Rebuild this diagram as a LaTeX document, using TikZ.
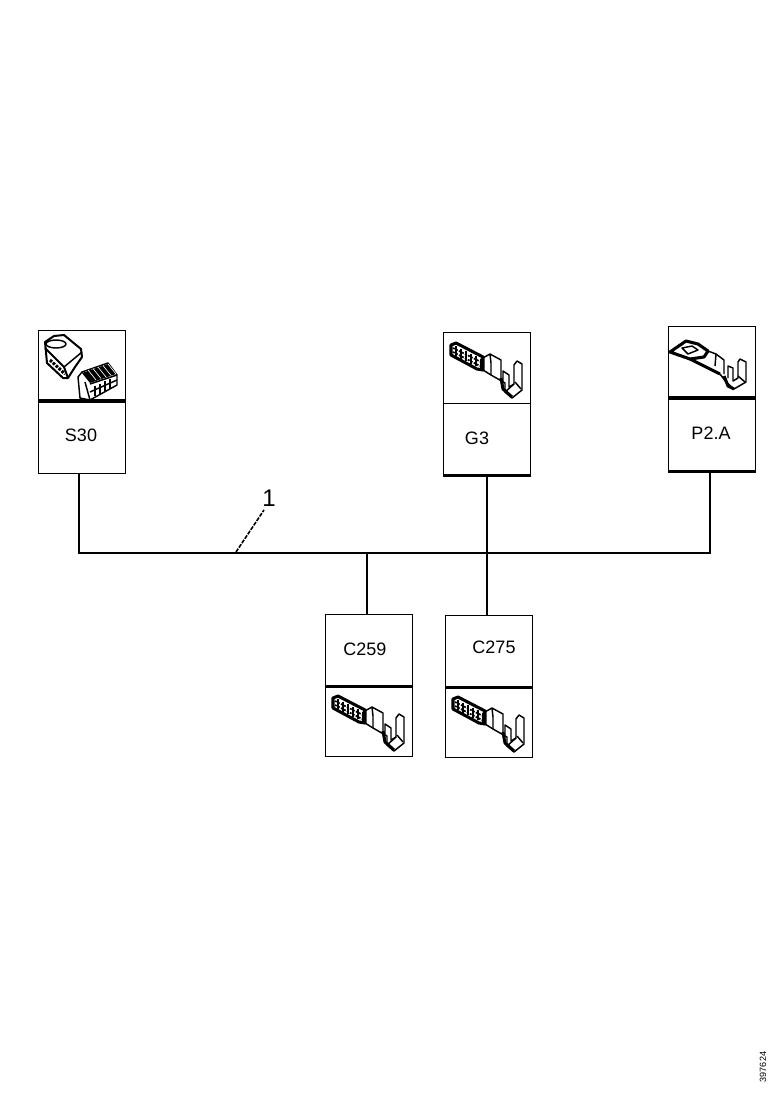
\documentclass[tikz,border=0pt]{standalone}
\usepackage{fontspec}
\setmainfont{Liberation Sans}
\tikzset{
  x=0.75pt,y=-0.75pt,
  boxpart/.style={draw=black,line width=1.1pt,fill=white,minimum width=65.25pt,inner sep=0pt,anchor=north west},
  wire/.style={draw=black,line width=1.9pt},
  divthick/.style={draw=black,line width=2.3pt},
  lbl/.style={font=\fontsize{13.5pt}{14pt}\selectfont,inner sep=0pt},
  art/.style={draw=black,line width=1.1pt,line join=round},
  artheavy/.style={draw=black,line width=2.3pt,line join=round},
  hatch/.style={draw=black,line width=1.3pt,dash pattern=on 1.5pt off 1pt},
  terminal/.pic={
    \draw[artheavy] (8,13)--(13,11)--(40,25)--(40,38)--(34,37)--(8,23)--cycle;
    \draw[hatch] (10,16)--(38,30);
    \draw[hatch] (10,20)--(37,34);
    \foreach \i in {0,1,2,3,4,5}{\draw[art] (13+5*\i,14+2.5*\i)--(13+5*\i,24+2.5*\i);}
    \draw[art] (38,27)--(47,22)--(58,28)--(58,48);
    \draw[art] (47,22)--(48,31)--(48,43);
    \draw[art] (40,38)--(48,43)--(62,51)--(62,60)--(69,66)--(79,58)--(79,32)--(74,29)--(71,33)--(71,52)--(66,55)--(66,43)--(60,39)--(60,50);
    \draw[artheavy] (58,46)--(60,57)--(69,65);
    \draw[art] (62,60)--(71,52);
    \draw[art] (72,50)--(78,57);
  },
  flatterminal/.pic={
    \draw[artheavy] (2,26)--(18,15)--(30,18)--(40,25)--(36,31)--(22,33)--cycle;
    \draw[art] (14,22)--(24,20)--(30,24)--(20,28)--cycle;
    \draw[artheavy] (22,33)--(40,42)--(52,48);
    \draw[art] (40,25)--(48,28)--(56,34)--(56,48);
    \draw[art] (48,28)--(47,40);
    \draw[art] (52,48)--(58,56)--(66,63)--(78,56)--(78,36)--(72,33)--(70,36)--(70,52)--(65,55)--(65,42)--(60,40)--(60,52);
    \draw[artheavy] (56,50)--(60,60)--(66,63);
    \draw[art] (70,50)--(77,56);
  },
  relaypair/.pic={
    \draw[art,line width=1.5pt] (7,12)--(16,6)--(26,5)--(43,19)--(44,27)--(37,37)--(30,48)--(25,48)--(9,33)--cycle;
    \draw[art,line width=1.5pt] (7,18)--(26,37)--(30,48);
    \draw[art] (26,37)--(44,22);
    \draw[art] (18,14) ellipse [x radius=7.5pt,y radius=3pt];
    \draw[artheavy,dash pattern=on 2pt off 1pt] (12,30)--(27,44);
    \draw[art,fill=white] (40,47)--(44,42)--(70,33)--(79,45)--(79,55)--(52,70)--(42,68)--cycle;
    \fill[black] (44,43)--(70,34)--(78,44)--(52,53)--cycle;
    \foreach \i in {0,1,2,3,4}{\draw[white,line width=0.5pt] (50+5*\i,40-1.5*\i)--(58+5*\i,50-1.5*\i);}
    \draw[art] (47,52)--(52,70);
    \draw[art] (52,54)--(79,45);
    \foreach \i in {0,1,2,3}{\draw[art] (57+5*\i,56-2.5*\i)--(57+5*\i,66-2.5*\i);}
    \draw[art] (52,62)--(79,50);
  },
}
\begin{document}
\begin{tikzpicture}
\useasboundingbox[fill=white] (0,0) rectangle (778,1100);

% S30
\node[boxpart,minimum height=53.25pt] (s30img) at (38,330) {};
\node[boxpart,minimum height=54pt] (s30lbl) at (38,401) {};
\pic at (38,330) {relaypair};
\draw[divthick] (s30lbl.north west)--(s30lbl.north east);
\node[lbl] (s30txt) at (81,435) {S30};

% G3
\node[boxpart,minimum height=53.25pt] (g3img) at (443,332) {};
\node[boxpart,minimum height=53.25pt] (g3lbl) at (443,403) {};
\pic at (443,332) {terminal};
\draw[divthick] (g3lbl.south west)--(g3lbl.south east);
\node[lbl] (g3txt) at (477,438) {G3};

% P2.A
\node[boxpart,minimum height=54pt] (p2img) at (668,326) {};
\node[boxpart,minimum height=54pt] (p2lbl) at (668,398) {};
\pic at (668,326) {flatterminal};
\draw[divthick] (p2lbl.north west)--(p2lbl.north east);
\draw[divthick] (p2lbl.south west)--(p2lbl.south east);
\node[lbl] (p2txt) at (711,433) {P2.A};

% C259
\node[boxpart,minimum height=53.25pt] (c259lbl) at (325,614) {};
\node[boxpart,minimum height=53.25pt] (c259img) at (325,685) {};
\pic at (325,685) {terminal};
\draw[divthick] (c259lbl.south west)--(c259lbl.south east);
\node[lbl] (c259txt) at (365,649) {C259};

% C275
\node[boxpart,minimum height=53.25pt] (c275lbl) at (445,615) {};
\node[boxpart,minimum height=53.25pt] (c275img) at (445,686) {};
\pic at (445,686) {terminal};
\draw[divthick] (c275lbl.south west)--(c275lbl.south east);
\node[lbl] (c275txt) at (494,647) {C275};

% wiring
\coordinate (busL) at (79,553);
\coordinate (busR) at (710,553);
\coordinate (tapA) at (367,553);
\coordinate (tapB) at (487,553);
\coordinate (lead) at (236,552);
\draw[wire] (s30lbl.south -| busL)--(busL)--(busR)--(p2lbl.south -| busR);
\draw[wire] (g3lbl.south -| tapB)--(c275lbl.north -| tapB);
\draw[wire] (c259lbl.north -| tapA)--(tapA);

% leader and its number
\node[font=\fontsize{18pt}{19pt}\selectfont,inner sep=0pt] (one) at (269,498) {1};
\coordinate (leadEnd) at (264,510);
\draw[black,line width=1.2pt,dash pattern=on 3pt off 1pt] (lead)--(leadEnd);

% drawing number
\node[font=\fontsize{6.8pt}{7pt}\selectfont,rotate=90,inner sep=0pt] (ref) at (763,1067) {397624};
\end{tikzpicture}
\end{document}
